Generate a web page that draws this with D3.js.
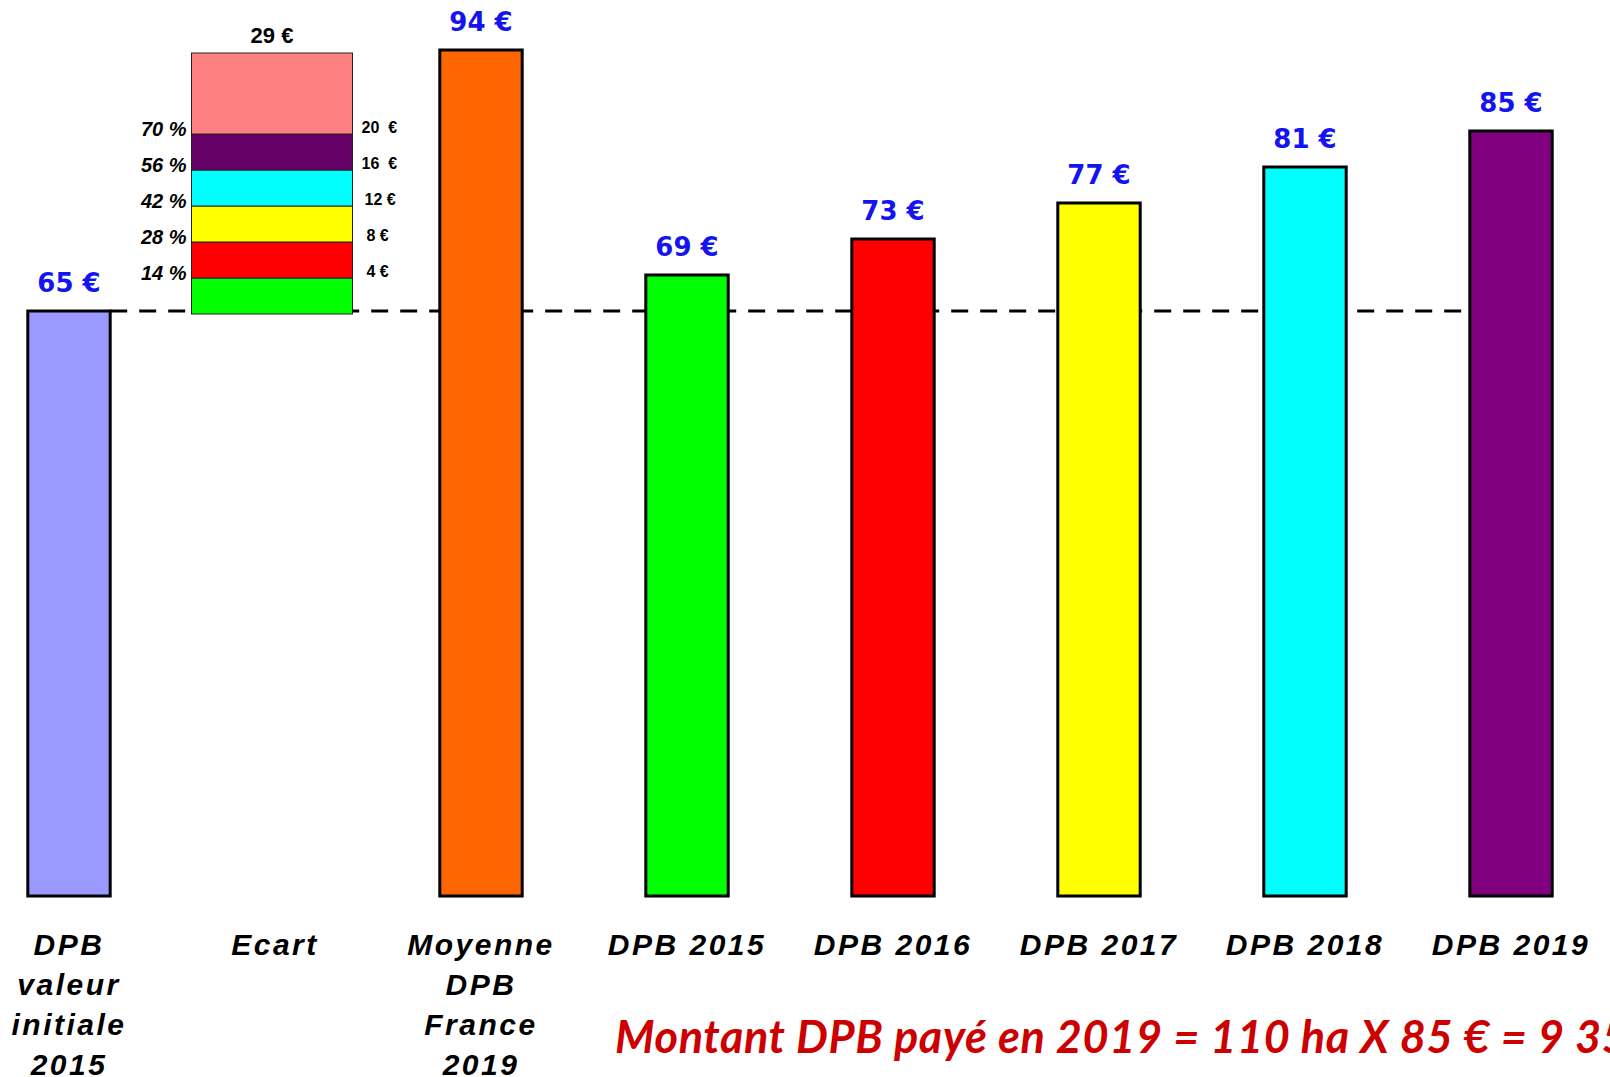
<!DOCTYPE html>
<html>
<head>
<meta charset="utf-8">
<script src="https://cdn.jsdelivr.net/npm/d3@7"></script>
<style>
  body { margin: 0; background: #ffffff; overflow: hidden; }
  svg { display: block; }
</style>
</head>
<body>
<div id="chart"></div>
<script>
// categories (multi-line labels)
var categories = [
    ["DPB", "valeur", "initiale", "2015"],
    ["Ecart"],
    ["Moyenne", "DPB", "France", "2019"],
    ["DPB 2015"], ["DPB 2016"], ["DPB 2017"], ["DPB 2018"], ["DPB 2019"]
];
var values = [65, null, 94, 69, 73, 77, 81, 85];
var barColors = ["#9999ff", null, "#ff6600", "#00ff00", "#ff0000", "#ffff00", "#00ffff", "#800080"];

// ecart stack, from the initial value up to the France average
var baseValue = 65;
var topValue = 94;
var ecartSteps = [4, 8, 12, 16, 20, 29];
var ecartPct = ["14 %", "28 %", "42 %", "56 %", "70 %"];
var ecartEuro = ["4 €", "8 €", "12 €", "16  €", "20  €"];
var ecartColors = ["#00ff00", "#ff0000", "#ffff00", "#00ffff", "#660066", "#ff8080"];

var footnote = "Montant DPB payé en 2019 = 110 ha X 85 € = 9 350 €";

var width = 1610, height = 1077;

var svg = d3.select("#chart").append("svg")
    .attr("width", width)
    .attr("height", height);

var x = d3.scaleBand()
    .domain(d3.range(categories.length))
    .range([-34, 1614])
    .paddingInner(0.6)
    .paddingOuter(0.3);

var y = d3.scaleLinear()
    .domain([0, 100])
    .range([896, -4]);

//dashed reference line at initial value (behind bars)
svg.append("line")
    .attr("x1", x(0) + x.bandwidth())
    .attr("x2", 1560)
    .attr("y1", y(baseValue))
    .attr("y2", y(baseValue))
    .attr("stroke", "#000")
    .attr("stroke-width", 3)
    .attr("stroke-dasharray", "17,12");

//ecart stack
var ecartW = 161;
var ecartX = x(1) + x.bandwidth() / 2 - ecartW / 2 - 3;
var stackData = ecartSteps.map(function(s, i) {
    return { lo: baseValue + (i ? ecartSteps[i - 1] : 0), hi: baseValue + s, color: ecartColors[i] };
});
svg.append("g").attr("transform", "translate(0,3)").selectAll("rect")
    .data(stackData).enter()
    .append("rect")
    .attr("x", ecartX)
    .attr("width", ecartW)
    .attr("y", function(d) { return y(d.hi); })
    .attr("height", function(d) { return y(d.lo) - y(d.hi); })
    .attr("fill", function(d) { return d.color; })
    .attr("stroke", "#222")
    .attr("stroke-width", 1);

svg.append("text")
    .attr("x", ecartX + ecartW / 2)
    .attr("y", y(topValue) - 7)
    .attr("text-anchor", "middle")
    .style("font", "bold 22px 'Liberation Sans', Arial, sans-serif")
    .text((topValue - baseValue) + " €");

//percent labels left of the stack
svg.append("g").selectAll("text")
    .data(ecartPct).enter()
    .append("text")
    .attr("x", ecartX - 5)
    .attr("y", function(d, i) { return y(baseValue + ecartSteps[i]) + 5; })
    .attr("text-anchor", "end")
    .style("font", "italic bold 20px 'Liberation Sans', Arial, sans-serif")
    .text(function(d) { return d; });

//euro labels right of the stack
svg.append("g").selectAll("text")
    .data(ecartEuro).enter()
    .append("text")
    .attr("x", function(d, i) { return ecartX + ecartW + (i < 2 ? 14 : (i < 3 ? 12 : 9)); })
    .attr("y", function(d, i) { return y(baseValue + ecartSteps[i]) + 2; })
    .style("font", "bold 16px 'Liberation Sans', Arial, sans-serif")
    .style("white-space", "pre")
    .text(function(d) { return d; });

//main bars
var barData = values.map(function(v, i) { return { v: v, i: i, color: barColors[i] }; })
    .filter(function(d) { return d.v !== null; });

svg.append("g").selectAll("rect")
    .data(barData).enter()
    .append("rect")
    .attr("x", function(d) { return x(d.i); })
    .attr("width", x.bandwidth())
    .attr("y", function(d) { return y(d.v); })
    .attr("height", function(d) { return y(0) - y(d.v); })
    .attr("fill", function(d) { return d.color; })
    .attr("stroke", "#000")
    .attr("stroke-width", 3);

//value labels
svg.append("g").selectAll("text")
    .data(barData).enter()
    .append("text")
    .attr("x", function(d) { return x(d.i) + x.bandwidth() / 2; })
    .attr("y", function(d) { return y(d.v) - 19; })
    .attr("text-anchor", "middle")
    .attr("fill", "#1414f0")
    .style("font", "bold 26px 'DejaVu Sans', Verdana, sans-serif")
    .text(function(d) { return d.v + " €"; });

//category labels
var catG = svg.append("g").selectAll("text")
    .data(categories).enter()
    .append("text")
    .attr("x", function(d, i) { return x(i) + x.bandwidth() / 2; })
    .attr("y", 955)
    .attr("text-anchor", "middle")
    .style("font", "italic bold 30px 'Liberation Sans', Arial, sans-serif")
    .style("letter-spacing", "2.5px");

catG.selectAll("tspan")
    .data(function(d) { return d; }).enter()
    .append("tspan")
    .attr("x", function() { return d3.select(this.parentNode).attr("x"); })
    .attr("dy", function(d, j) { return j ? 40 : 0; })
    .text(function(d) { return d; });

//footnote
svg.append("text")
    .attr("x", 615)
    .attr("y", 1053)
    .attr("fill", "#cc0000")
    .style("font", "italic bold 45px Lato, sans-serif")
    .style("letter-spacing", "0.6px")
    .text(footnote);
</script>
</body>
</html>
